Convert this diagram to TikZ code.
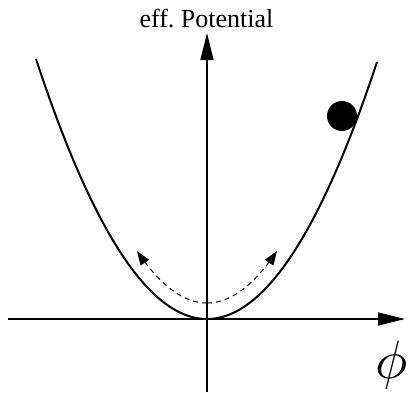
\documentclass[tikz,border=0pt]{standalone}
\usepackage{fontspec}
\setmainfont{Liberation Serif}
\usetikzlibrary{arrows.meta}
\begin{document}
\begin{tikzpicture}[x=1pt,y=-1pt,
  axis/.style={line width=1.4pt,-{Triangle[length=27pt,width=13pt]}},
  curve/.style={line width=2pt},
  dashcurve/.style={line width=1pt,dash pattern=on 5pt off 4pt,-{Triangle[length=14pt,width=10pt]}}]
\useasboundingbox (0,0) rectangle (410,392);
\coordinate (xl) at (8,319);
\coordinate (xr) at (405,319);
\coordinate (yb) at (207,392);
\coordinate (yt) at (207,33);
\draw[axis] (xl) -- (xr);
\draw[axis] (yb) -- (yt);
\draw[curve] plot[domain=-171:170,samples=120,smooth] ({207+\x},{319-0.0943*(\x)*0.0943*(\x)});
\draw[dashcurve] plot[domain=0:-70,samples=40,smooth] ({207+\x},{303-0.0106*(\x)*(\x)});
\draw[dashcurve] plot[domain=0:70,samples=40,smooth] ({207+\x},{303-0.0106*(\x)*(\x)});
\fill (342,116) circle (15);
\node[font=\fontsize{26}{30}\selectfont,anchor=base] (lab) at (206.5,27) {eff.\ Potential};
\node[scale=5.4,inner sep=0pt] (phi) at (392,365) {$\phi$};
\end{tikzpicture}
\end{document}
